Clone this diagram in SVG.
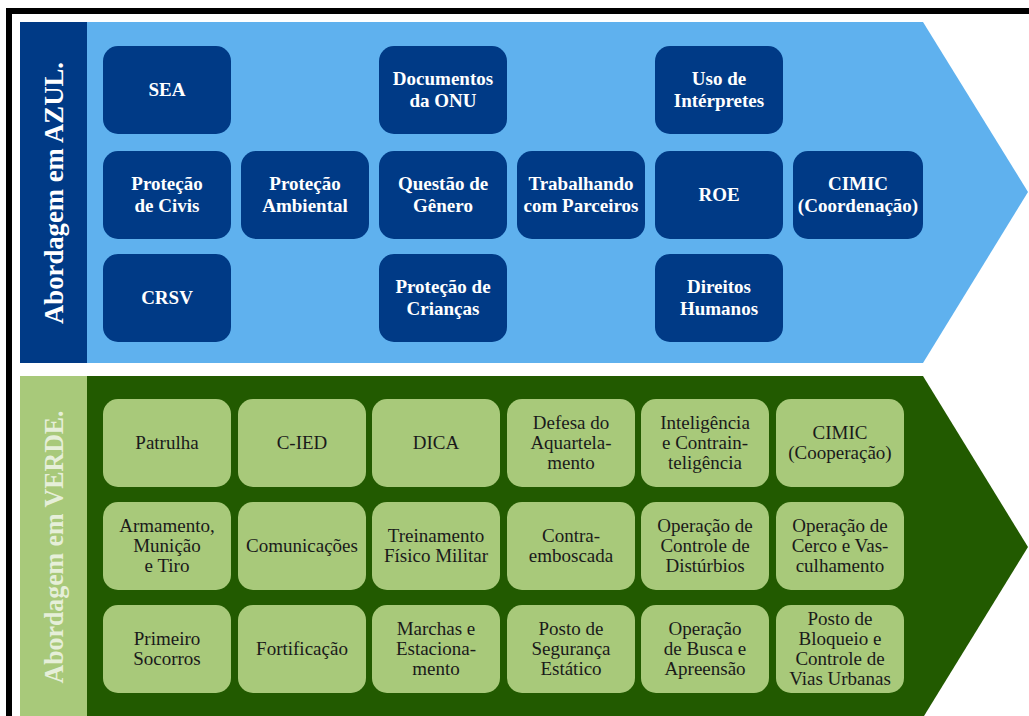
<svg xmlns="http://www.w3.org/2000/svg" width="1029" height="716" viewBox="0 0 1029 716">
<style>
.bb{fill:#003A86}
.gb{fill:#A8C97A}
.bt{font-family:"Liberation Serif",serif;font-size:19px;font-weight:bold;fill:#FFFFFF;text-anchor:middle}
.gt{font-family:"Liberation Serif",serif;font-size:19px;fill:#1A1A1A;text-anchor:middle}
.vl{font-family:"Liberation Serif",serif;font-size:27px;font-weight:bold;text-anchor:middle}
</style>
<rect x="0" y="0" width="1029" height="716" fill="#FFFFFF"/>
<path d="M9 716 V11 H1029" fill="none" stroke="#000000" stroke-width="6"/>
<g id="azul-section">
<polygon points="87,22 923,22 1028,192 923,363 87,363" fill="#5FB1EE"/>
<rect x="20" y="22" width="67" height="341" fill="#003A86"/>
<text class="vl" fill="#FFFFFF" transform="translate(63,193) rotate(-90)" textLength="262" lengthAdjust="spacingAndGlyphs">Abordagem em AZUL.</text>
</g>
<g id="verde-section">
<polygon points="87,376 923,376 1028,547 924,716 87,716" fill="#225A00"/>
<rect x="20" y="376" width="67" height="340" fill="#A8C97A"/>
<text class="vl" fill="#E6EFD9" transform="translate(63,547) rotate(-90)" textLength="273" lengthAdjust="spacingAndGlyphs">Abordagem em VERDE.</text>
</g>
<g id="connectors"></g>
<g id="sea"><rect class="bb" x="103" y="46" width="128" height="88" rx="15"/><text class="bt" x="167" y="96">SEA</text></g>
<g id="documentos"><rect class="bb" x="379" y="46" width="128" height="88" rx="15"/><text class="bt"><tspan x="443" y="85">Documentos</tspan><tspan x="443" y="107">da ONU</tspan></text></g>
<g id="interpretes"><rect class="bb" x="655" y="46" width="128" height="88" rx="15"/><text class="bt"><tspan x="719" y="85">Uso de</tspan><tspan x="719" y="107">Intérpretes</tspan></text></g>
<g id="protecao-civis"><rect class="bb" x="103" y="151" width="128" height="88" rx="15"/><text class="bt"><tspan x="167" y="190">Proteção</tspan><tspan x="167" y="212">de Civis</tspan></text></g>
<g id="protecao-ambiental"><rect class="bb" x="241" y="151" width="128" height="88" rx="15"/><text class="bt"><tspan x="305" y="190">Proteção</tspan><tspan x="305" y="212">Ambiental</tspan></text></g>
<g id="genero"><rect class="bb" x="379" y="151" width="128" height="88" rx="15"/><text class="bt"><tspan x="443" y="190">Questão de</tspan><tspan x="443" y="212">Gênero</tspan></text></g>
<g id="parceiros"><rect class="bb" x="517" y="151" width="128" height="88" rx="15"/><text class="bt"><tspan x="581" y="190">Trabalhando</tspan><tspan x="581" y="212">com Parceiros</tspan></text></g>
<g id="roe"><rect class="bb" x="655" y="151" width="128" height="88" rx="15"/><text class="bt" x="719" y="201">ROE</text></g>
<g id="cimic-coord"><rect class="bb" x="793" y="151" width="130" height="88" rx="15"/><text class="bt"><tspan x="858" y="190">CIMIC</tspan><tspan x="858" y="212">(Coordenação)</tspan></text></g>
<g id="crsv"><rect class="bb" x="103" y="254" width="128" height="88" rx="15"/><text class="bt" x="167" y="304">CRSV</text></g>
<g id="criancas"><rect class="bb" x="379" y="254" width="128" height="88" rx="15"/><text class="bt"><tspan x="443" y="293">Proteção de</tspan><tspan x="443" y="315">Crianças</tspan></text></g>
<g id="direitos"><rect class="bb" x="655" y="254" width="128" height="88" rx="15"/><text class="bt"><tspan x="719" y="293">Direitos</tspan><tspan x="719" y="315">Humanos</tspan></text></g>
<g id="patrulha"><rect class="gb" x="103" y="399" width="128" height="88" rx="15"/><text class="gt" x="167" y="449">Patrulha</text></g>
<g id="cied"><rect class="gb" x="238" y="399" width="128" height="88" rx="15"/><text class="gt" x="302" y="449">C-IED</text></g>
<g id="dica"><rect class="gb" x="372" y="399" width="128" height="88" rx="15"/><text class="gt" x="436" y="449">DICA</text></g>
<g id="defesa"><rect class="gb" x="507" y="399" width="128" height="88" rx="15"/><text class="gt"><tspan x="571" y="429">Defesa do</tspan><tspan x="571" y="449">Aquartela-</tspan><tspan x="571" y="469">mento</tspan></text></g>
<g id="inteligencia"><rect class="gb" x="641" y="399" width="128" height="88" rx="15"/><text class="gt"><tspan x="705" y="429">Inteligência</tspan><tspan x="705" y="449">e Contrain-</tspan><tspan x="705" y="469">teligência</tspan></text></g>
<g id="cimic-coop"><rect class="gb" x="776" y="399" width="128" height="88" rx="15"/><text class="gt"><tspan x="840" y="439">CIMIC</tspan><tspan x="840" y="459">(Cooperação)</tspan></text></g>
<g id="armamento"><rect class="gb" x="103" y="502" width="128" height="88" rx="15"/><text class="gt"><tspan x="167" y="532">Armamento,</tspan><tspan x="167" y="552">Munição</tspan><tspan x="167" y="572">e Tiro</tspan></text></g>
<g id="comunicacoes"><rect class="gb" x="238" y="502" width="128" height="88" rx="15"/><text class="gt" x="302" y="552">Comunicações</text></g>
<g id="treinamento"><rect class="gb" x="372" y="502" width="128" height="88" rx="15"/><text class="gt"><tspan x="436" y="542">Treinamento</tspan><tspan x="436" y="562">Físico Militar</tspan></text></g>
<g id="contra"><rect class="gb" x="507" y="502" width="128" height="88" rx="15"/><text class="gt"><tspan x="571" y="542">Contra-</tspan><tspan x="571" y="562">emboscada</tspan></text></g>
<g id="disturbios"><rect class="gb" x="641" y="502" width="128" height="88" rx="15"/><text class="gt"><tspan x="705" y="532">Operação de</tspan><tspan x="705" y="552">Controle de</tspan><tspan x="705" y="572">Distúrbios</tspan></text></g>
<g id="cerco"><rect class="gb" x="776" y="502" width="128" height="88" rx="15"/><text class="gt"><tspan x="840" y="532">Operação de</tspan><tspan x="840" y="552">Cerco e Vas-</tspan><tspan x="840" y="572">culhamento</tspan></text></g>
<g id="socorros"><rect class="gb" x="103" y="605" width="128" height="88" rx="15"/><text class="gt"><tspan x="167" y="645">Primeiro</tspan><tspan x="167" y="665">Socorros</tspan></text></g>
<g id="fortificacao"><rect class="gb" x="238" y="605" width="128" height="88" rx="15"/><text class="gt" x="302" y="655">Fortificação</text></g>
<g id="marchas"><rect class="gb" x="372" y="605" width="128" height="88" rx="15"/><text class="gt"><tspan x="436" y="635">Marchas e</tspan><tspan x="436" y="655">Estaciona-</tspan><tspan x="436" y="675">mento</tspan></text></g>
<g id="posto-seguranca"><rect class="gb" x="507" y="605" width="128" height="88" rx="15"/><text class="gt"><tspan x="571" y="635">Posto de</tspan><tspan x="571" y="655">Segurança</tspan><tspan x="571" y="675">Estático</tspan></text></g>
<g id="busca"><rect class="gb" x="641" y="605" width="128" height="88" rx="15"/><text class="gt"><tspan x="705" y="635">Operação</tspan><tspan x="705" y="655">de Busca e</tspan><tspan x="705" y="675">Apreensão</tspan></text></g>
<g id="bloqueio"><rect class="gb" x="776" y="605" width="128" height="88" rx="15"/><text class="gt"><tspan x="840" y="625">Posto de</tspan><tspan x="840" y="645">Bloqueio e</tspan><tspan x="840" y="665">Controle de</tspan><tspan x="840" y="685">Vias Urbanas</tspan></text></g>
</svg>
